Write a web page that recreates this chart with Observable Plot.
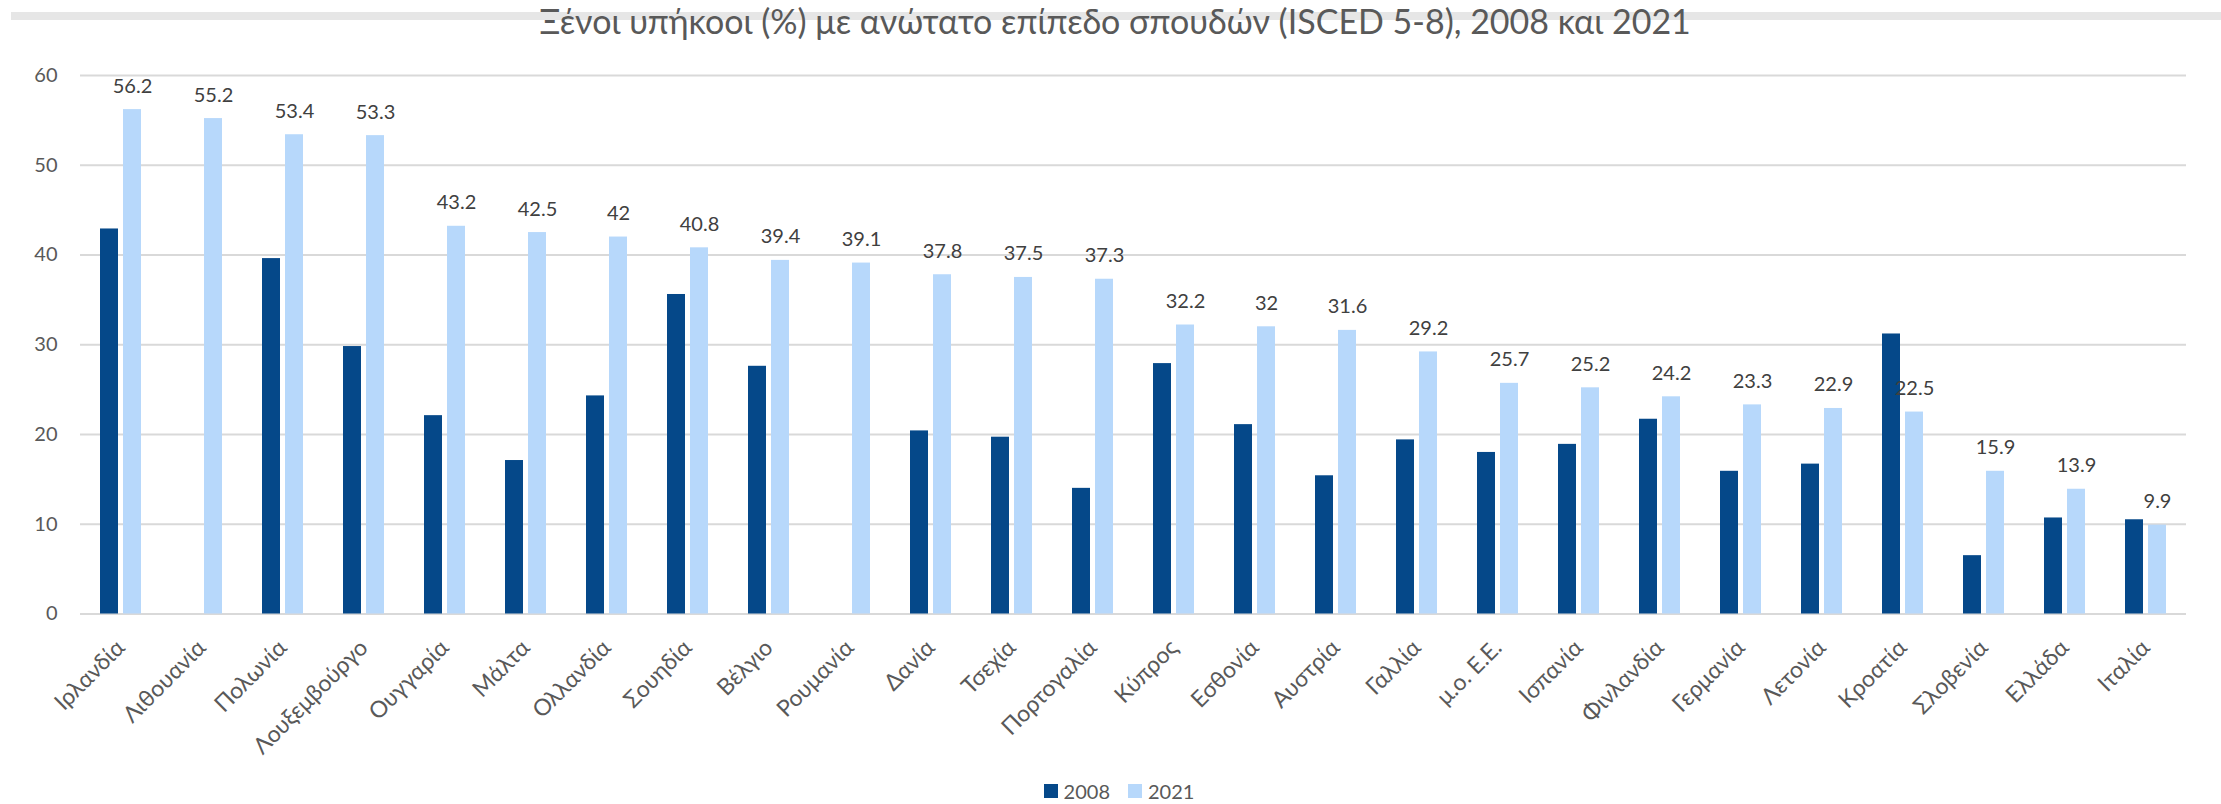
<!DOCTYPE html>
<html>
<head>
<meta charset="utf-8">
<script src="https://cdn.jsdelivr.net/npm/d3@7"></script>
<script src="https://cdn.jsdelivr.net/npm/@observablehq/plot@0.6"></script>
<style>
  html, body { margin: 0; padding: 0; background: #fff; }
  #wrap { position: relative; width: 2221px; height: 804px; overflow: hidden; font-family: Lato, "Noto Sans", sans-serif; }
  #band { position: absolute; left: 11px; right: 0; top: 12px; height: 8px; background: #e6e6e6; }
  #title { position: absolute; left: 0; width: 2230px; top: 1px; text-align: center; font-size: 34px; font-weight: 400; color: #595959; line-height: 40px; white-space: nowrap; }
  #chart { position: absolute; left: 0; top: 0; }
  #legend { position: absolute; top: 778px; left: 0; width: 2238px; display: flex; justify-content: center; gap: 18px; font-size: 20px; color: #595959; line-height: 26px; }
  .item { display: flex; align-items: center; gap: 6px; }
  .sw { width: 14px; height: 14px; display: inline-block; }
</style>
</head>
<body>
<div id="wrap">
  <div id="band"></div>
  <div id="title"></div>
  <div id="chart"></div>
  <div id="legend"></div>
</div>
<script>
const title = "Ξένοι υπήκοοι (%) με ανώτατο επίπεδο σπουδών (ISCED 5-8), 2008 και 2021";
const countries = ["Ιρλανδία","Λιθουανία","Πολωνία","Λουξεμβούργο","Ουγγαρία","Μάλτα","Ολλανδία","Σουηδία","Βέλγιο","Ρουμανία","Δανία","Τσεχία","Πορτογαλία","Κύπρος","Εσθονία","Αυστρία","Γαλλία","μ.ο. Ε.Ε.","Ισπανία","Φινλανδία","Γερμανία","Λετονία","Κροατία","Σλοβενία","Ελλάδα","Ιταλία"];
const values2008 = [42.9, null, 39.6, 29.8, 22.1, 17.1, 24.3, 35.6, 27.6, null, 20.4, 19.7, 14.0, 27.9, 21.1, 15.4, 19.4, 18.0, 18.9, 21.7, 15.9, 16.7, 31.2, 6.5, 10.7, 10.5];
const values2021 = [56.2, 55.2, 53.4, 53.3, 43.2, 42.5, 42, 40.8, 39.4, 39.1, 37.8, 37.5, 37.3, 32.2, 32, 31.6, 29.2, 25.7, 25.2, 24.2, 23.3, 22.9, 22.5, 15.9, 13.9, 9.9];
const series = ["2008", "2021"];
const colors = ["#054889", "#b7d8fb"];
const yTicks = [0, 10, 20, 30, 40, 50, 60];

const rows = [];
countries.forEach((c, i) => {
  if (values2008[i] != null) rows.push({country: c, year: series[0], value: values2008[i]});
  if (values2021[i] != null) rows.push({country: c, year: series[1], value: values2021[i]});
});
const labels = rows.filter(d => d.year === series[1]);

document.getElementById("title").textContent = title;

const chart = Plot.plot({
  width: 2221,
  height: 760,
  marginTop: 75,
  marginBottom: 146.5,
  marginLeft: 75,
  marginRight: 31,
  style: {fontFamily: "Lato, 'Noto Sans', sans-serif", background: "transparent"},
  fx: {domain: countries, padding: 0, label: null},
  x: {domain: series, paddingInner: 0.2146, paddingOuter: 0.852, axis: null},
  y: {domain: [0, 60], label: null},
  color: {domain: series, range: colors},
  marks: [
    Plot.gridY(yTicks, {stroke: "#d9d9d9", strokeOpacity: 1, strokeWidth: 2}),
    Plot.axisY(yTicks, {tickSize: 0, tickPadding: 23, fontSize: 20, fill: "#595959", label: null}),
    Plot.axisFx({anchor: "bottom", tickRotate: -45, tickSize: 0, tickPadding: 30, fontSize: 23, fill: "#595959", label: null}),
    Plot.barY(rows, {fx: "country", x: "year", y: "value", fill: "year"}),
    Plot.text(labels, {fx: "country", x: "year", y: "value", text: d => String(d.value), dy: -17, lineAnchor: "bottom", fontSize: 20, fill: "#404040"})
  ]
});
document.getElementById("chart").appendChild(chart);

const legend = document.getElementById("legend");
series.forEach((s, i) => {
  const it = document.createElement("div");
  it.className = "item";
  const sw = document.createElement("span");
  sw.className = "sw";
  sw.style.background = colors[i];
  const t = document.createElement("span");
  t.textContent = s;
  it.appendChild(sw); it.appendChild(t);
  legend.appendChild(it);
});
</script>
</body>
</html>
